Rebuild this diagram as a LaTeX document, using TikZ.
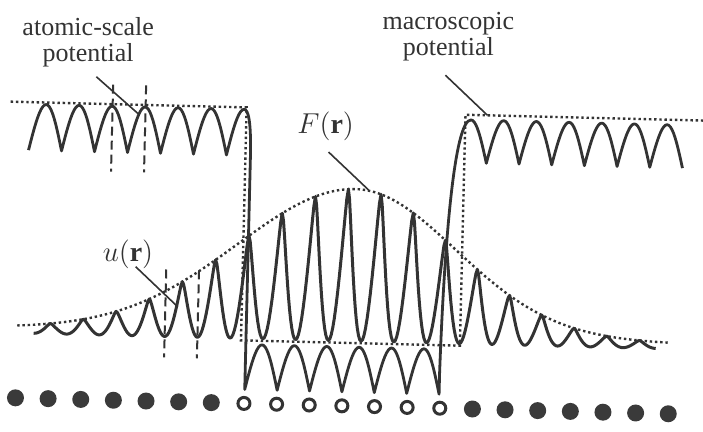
\documentclass[tikz,border=0pt]{standalone}
\usepackage{fontspec}
\setmainfont{Liberation Serif}
\definecolor{ink}{HTML}{333333}
\definecolor{atomfill}{HTML}{3A3A3A}
\tikzset{
  pot/.style={draw=ink,line width=1.4pt,line join=round},
  wave/.style={draw=ink,line width=1.5pt,line join=round},
  macro/.style={draw=ink,line width=1.2pt,dash pattern=on 1.2pt off 1.4pt},
  cell/.style={draw=ink,line width=1pt,dash pattern=on 4.5pt off 2.5pt},
  lead/.style={draw=ink,line width=0.8pt},
  lbl/.style={text=ink,align=center,inner sep=0pt,font=\fontsize{13}{13}\selectfont},
  mlbl/.style={text=ink,inner sep=0pt,font=\fontsize{14}{14}\selectfont},
  hostatom/.style={circle,fill=atomfill,inner sep=0pt,minimum size=8.5pt},
  wellatom/.style={circle,draw=ink,line width=1.5pt,inner sep=0pt,minimum size=6pt},
  declare function={
    envw(\t)=165*(\t<355)+143*(\t>=355);
    envF(\t)=5+147*exp(-((\t-355)/envw(\t))*((\t-355)/envw(\t)));
    uphase(\t)=sin(5.49618*(\t-53));
    useg(\t)=(1.00717-sqrt(uphase(\t)*uphase(\t)+0.0144))/0.88717;
  },
}
\begin{document}
\begin{tikzpicture}[x=0.5pt,y=-0.5pt]
\useasboundingbox (0,0) rectangle (703,432);
\begin{scope}[rotate around={-1.4:(351,216)}]
% wavefunction u(r) and its envelope F(r)
\draw[wave] plot[domain=36.625:658.875,samples=457] (\x,{341-envF(\x)*useg(\x)});
\draw[macro] plot[domain=20:672,samples=120] (\x,{341-envF(\x)});
% macroscopic potential
\draw[macro] (8,110) -- (244,110) -- (244,343) -- (463,343) -- (463,112) -- (703,112);
% atomic-scale potential
\draw[pot] plot[domain=27:241.5,samples=131] (\x,{158-46*abs(sin(180/33*(\x-27)))})
  .. controls (246,112) and (249,125) .. (249,160) -- (249,392)
  -- plot[domain=249:443.4,samples=121] (\x,{392-45*abs(sin(180/32.4*(\x-249)))})
  -- (443.4,372) .. controls (445,240) and (452,117) .. (468.65,117)
  -- plot[domain=468.65:681.2,samples=131] (\x,{160-43*abs(sin(180/32.7*(\x-485)))});
% unit cells
\draw[cell] (110,90.5) -- (110,177.5);
\draw[cell] (143,90.5) -- (143,177.5);
\draw[cell] (167.6,274) -- (167.6,362);
\draw[cell] (200.4,274) -- (200.4,362);
% atoms
\foreach \k in {0,...,6,14,15,...,20}
  \node[hostatom] (atom\k) at ({20+32.65*\k},406) {};
\foreach \k in {7,...,13}
  \node[wellatom] (atom\k) at ({20+32.65*\k},406) {};
% labels
\node[lbl] (atomlbl) at (84,48.4) {atomic-scale\\potential};
\node[lbl] (macrolbl) at (444,34.8) {macroscopic\\potential};
\node[mlbl] (envlbl) at (323.5,127) {$F(\mathbf{r})$};
\node[mlbl] (wavelbl) at (129,260) {$u(\mathbf{r})$};
\coordinate (atomtail) at (93,83);
\coordinate (atomtip) at (137,120);
\coordinate (macrotail) at (442,73);
\coordinate (macrotip) at (485,112);
\coordinate (envtail) at (327,152.6);
\coordinate (envtip) at (368,189.6);
\coordinate (wavetail) at (137,272);
\coordinate (wavetip) at (180,311);
\draw[lead] (atomtail) -- (atomtip);
\draw[lead] (macrotail) -- (macrotip);
\draw[lead] (envtail) -- (envtip);
\draw[lead] (wavetail) -- (wavetip);
\end{scope}
\end{tikzpicture}
\end{document}
